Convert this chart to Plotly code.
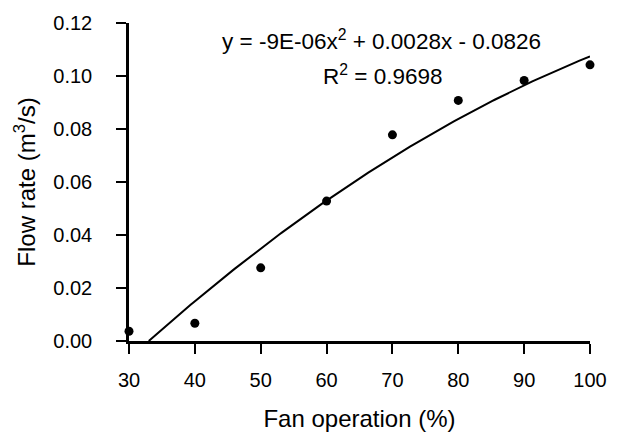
import numpy as np
import plotly.graph_objects as go

fan_operation = [30, 40, 50, 60, 70, 80, 90, 100]
flow_rate = [0.0037, 0.0067, 0.0276, 0.0528, 0.0778, 0.0908, 0.0983, 0.1042]

# trendline coefficients as displayed on the chart
coef_a, coef_b, coef_c = -9e-06, 0.0028, -0.0826
x_ticks = [30, 40, 50, 60, 70, 80, 90, 100]
y_ticks = [0.00, 0.02, 0.04, 0.06, 0.08, 0.10, 0.12]
x_range = [30, 100]
y_range = [0.0, 0.12]

roots = np.roots([coef_a, coef_b, coef_c])
x_start = float(min(r.real for r in roots if x_range[0] <= r.real <= x_range[1]))
xf = np.linspace(x_start, x_range[1], 200)
yf = coef_a * xf**2 + coef_b * xf + coef_c

FONT = "Liberation Sans, Arial, sans-serif"
W, H = 643, 441
L, R, T, B = 129, 53, 21, 99
pw, ph = W - L - R, H - T - B

fig = go.Figure()
fig.add_trace(go.Scatter(x=xf, y=yf, mode="lines",
                         line=dict(color="black", width=2), showlegend=False))
fig.add_trace(go.Scatter(x=fan_operation, y=flow_rate, mode="markers",
                         marker=dict(color="black", size=9), cliponaxis=False,
                         showlegend=False))

fig.update_layout(
    width=W, height=H,
    margin=dict(l=L, r=R, t=T, b=B, pad=0),
    paper_bgcolor="white", plot_bgcolor="white",
    font=dict(family=FONT, size=20, color="black"),
    xaxis=dict(range=x_range, tickvals=x_ticks, ticks="outside", ticklen=10,
               tickwidth=2, tickcolor="black", showline=True, linecolor="black",
               linewidth=2.5, showgrid=False, zeroline=False, mirror=False,
               ticklabelstandoff=9,
               title=dict(text="Fan operation (%)", standoff=21)),
    yaxis=dict(range=y_range, tickvals=y_ticks,
               ticktext=[f"{v:.2f}\u2002\u2002" for v in y_ticks], ticks="outside",
               ticklen=10, tickwidth=2, tickcolor="black", showline=True,
               linecolor="black", linewidth=2.5, showgrid=False, zeroline=False,
               mirror=False,
               title=dict(text="Flow rate (m<sup>3</sup>/s)", standoff=11)),
    annotations=[
        dict(x=(381 - L) / pw, y=1 - (38 - T) / ph, xref="paper", yref="paper",
             showarrow=False, xanchor="center", yanchor="middle",
             text="y = -9E-06x<sup>2</sup> + 0.0028x - 0.0826",
             font=dict(family=FONT, size=22.5, color="black")),
        dict(x=(382 - L) / pw, y=1 - (73 - T) / ph, xref="paper", yref="paper",
             showarrow=False, xanchor="center", yanchor="middle",
             text="R<sup>2</sup> = 0.9698",
             font=dict(family=FONT, size=22.5, color="black")),
    ],
)

fig.write_html("out.html", config={"displayModeBar": False})
with open("out.html", encoding="utf-8") as f:
    html = f.read()
html = html.replace("<body>", '<body style="margin:0;padding:0">', 1)
with open("out.html", "w", encoding="utf-8") as f:
    f.write(html)
